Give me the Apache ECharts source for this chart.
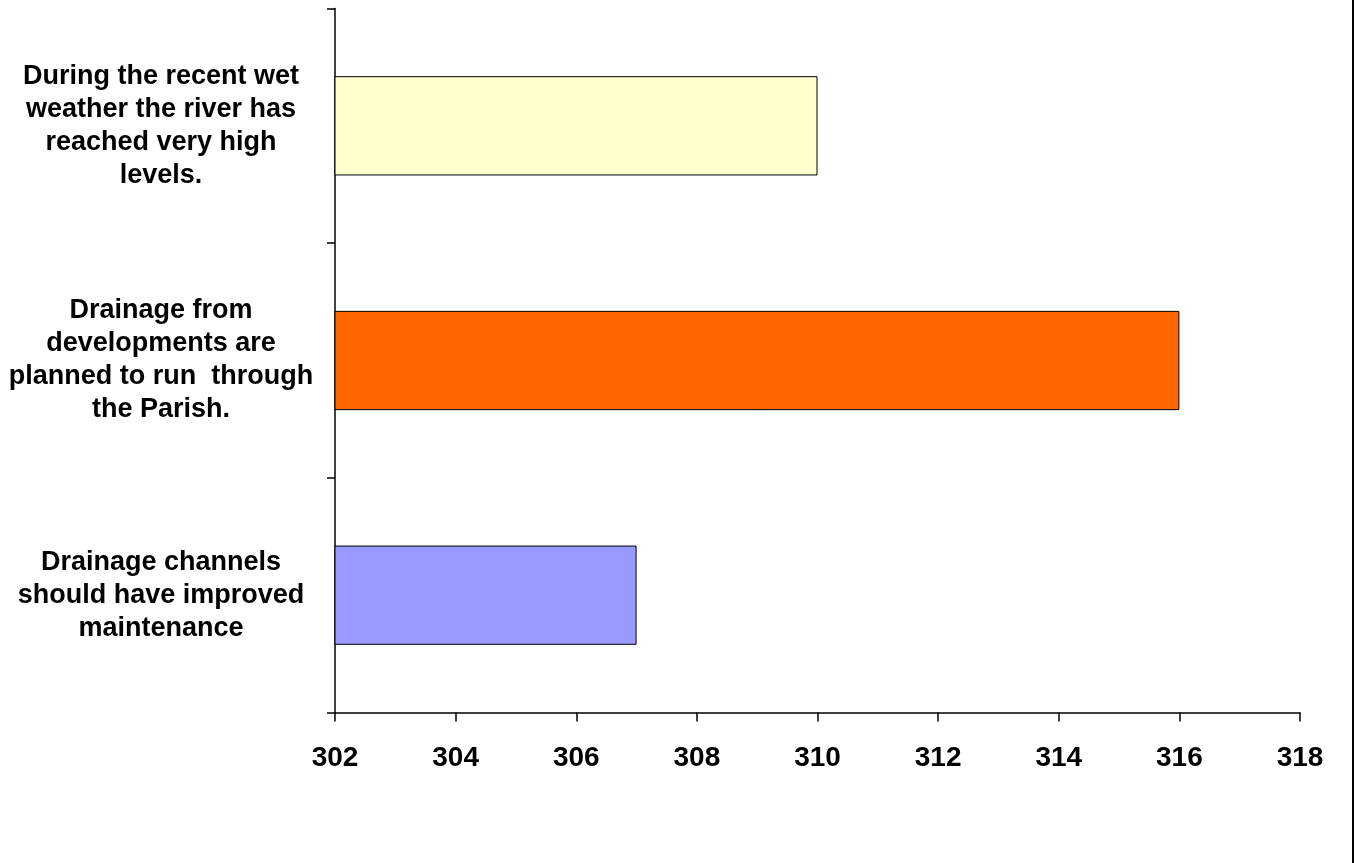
<!DOCTYPE html>
<html>
<head>
<meta charset="utf-8">
<style>
  html, body { margin: 0; padding: 0; background: #ffffff; }
  #chart { width: 1355px; height: 863px; }
</style>
<script src="https://cdn.jsdelivr.net/npm/echarts@6/dist/echarts.min.js"></script>
</head>
<body>
<div id="chart"></div>
<script>
// Categories listed bottom to top (ECharts category y axis runs upward)
const categories = [
  'Drainage channels\nshould have improved\nmaintenance',
  'Drainage from\ndevelopments are\nplanned to run  through\nthe Parish.',
  'During the recent wet\nweather the river has\nreached very high\nlevels.'
];
const values = [307, 316, 310];
const barColors = ['#9999FF', '#FF6600', '#FFFFCC'];
const xMin = 302;
const xMax = 318;
const xStep = 2;

const chart = echarts.init(document.getElementById('chart'), null, { renderer: 'canvas' });
const font = '"Liberation Sans", Arial, sans-serif';

chart.setOption({
  animation: false,
  backgroundColor: '#ffffff',
  grid: { left: 335, right: 55, top: 8.5, bottom: 150.5, containLabel: false },
  xAxis: {
    type: 'value',
    min: xMin,
    max: xMax,
    interval: xStep,
    axisLine: { show: true, lineStyle: { color: '#000', width: 1.5 } },
    axisTick: { show: true, length: 9, lineStyle: { color: '#000', width: 1.5 } },
    splitLine: { show: false },
    axisLabel: {
      color: '#000', fontFamily: font, fontWeight: 'bold', fontSize: 28, margin: 32
    }
  },
  yAxis: {
    type: 'category',
    data: categories,
    axisLine: { show: true, lineStyle: { color: '#000', width: 1.5 } },
    axisTick: { show: true, length: 8, alignWithLabel: false, lineStyle: { color: '#000', width: 1.5 } },
    axisLabel: {
      color: '#000', fontFamily: font, fontWeight: 'bold', fontSize: 27, lineHeight: 33,
      align: 'center', margin: 174, interval: 0
    }
  },
  series: [{
    type: 'bar',
    data: values.map((v, i) => ({ value: v, itemStyle: { color: barColors[i] } })),
    barWidth: '42.3%',
    itemStyle: { borderColor: '#000', borderWidth: 1 }
  }],
  graphic: [{
    type: 'rect',
    shape: { x: 1352, y: 0, width: 2, height: 863 },
    style: { fill: '#000' },
    silent: true
  }]
});
</script>
</body>
</html>
